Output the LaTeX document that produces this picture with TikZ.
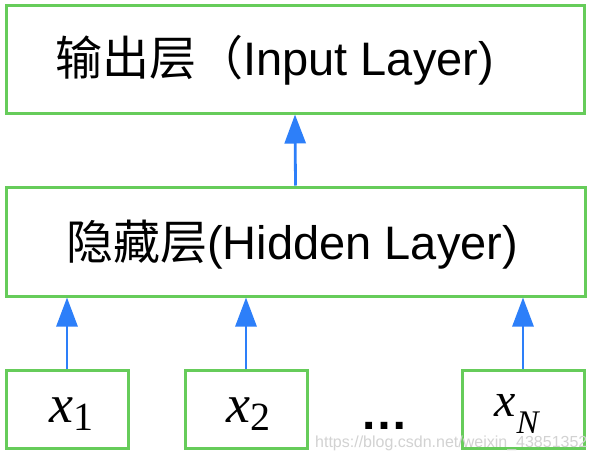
\documentclass[tikz,border=0pt]{standalone}
\usepackage{fontspec}
\setmainfont{Liberation Sans}
\newfontfamily\cjk{Noto Sans CJK SC}
\newfontfamily\tms{Liberation Serif}
\usetikzlibrary{arrows.meta}
\definecolor{boxgreen}{HTML}{66CC5A}
\definecolor{arrblue}{HTML}{2D7FF9}
\begin{document}
\begin{tikzpicture}[x=1pt,y=-1pt,
  box/.style={draw=boxgreen,line width=3pt,inner sep=0pt},
  lbl/.style={anchor=base west,inner sep=0pt,font=\fontsize{47}{56}\selectfont},
  mlbl/.style={anchor=base west,inner sep=0pt,font=\tms\fontsize{54}{60}\selectfont},
  arr/.style={draw=arrblue,line width=2.8pt,-{Triangle[width=21pt,length=29pt]}}]
\useasboundingbox (0,0) rectangle (595,459);
\fill[white] (0,0) rectangle (595,459);
% boxes
\node[box,minimum width=578pt,minimum height=108pt] (top) at (295,59) {};
\node[box,minimum width=579pt,minimum height=109pt] (mid) at (295.5,241.5) {};
\node[box,minimum width=122pt,minimum height=78pt] (x1) at (67,409) {};
\node[box,minimum width=122pt,minimum height=78pt] (x2) at (246,409) {};
\node[box,minimum width=122pt,minimum height=78pt] (xN) at (523,409) {};
% texts
\node[lbl] (ttop) at (55,75) {{\cjk 输出层（}Input Layer)};
\node[lbl] (tmid) at (66,259) {{\cjk 隐藏层}(Hidden Layer)};
\node[mlbl] (tx1) at (49,422) {\itshape x\upshape\raisebox{-8pt}{\fontsize{40}{44}\selectfont 1}};
\node[mlbl] (tx2) at (226,422) {\itshape x\upshape\raisebox{-8pt}{\fontsize{40}{44}\selectfont 2}};
\node[mlbl,font=\tms\fontsize{48}{54}\selectfont] (txN) at (494,416) {\itshape x\kern1pt\raisebox{-17pt}{\fontsize{33}{40}\selectfont N}};
\node[lbl,font=\bfseries\fontsize{48}{54}\selectfont] (dots) at (360,429) {…};
% arrows
\draw[arr] (mid.north) -- (top.south);
\draw[arr] (x1.north) -- (x1.north |- mid.south);
\draw[arr] (x2.north) -- (x2.north |- mid.south);
\draw[arr] (xN.north) -- (xN.north |- mid.south);
% watermark
\node[anchor=base west,inner sep=0pt,font=\fontsize{16}{18}\selectfont,text=gray!35] (wm) at (315,447) {https://blog.csdn.net/weixin\_43851352};
\end{tikzpicture}
\end{document}
